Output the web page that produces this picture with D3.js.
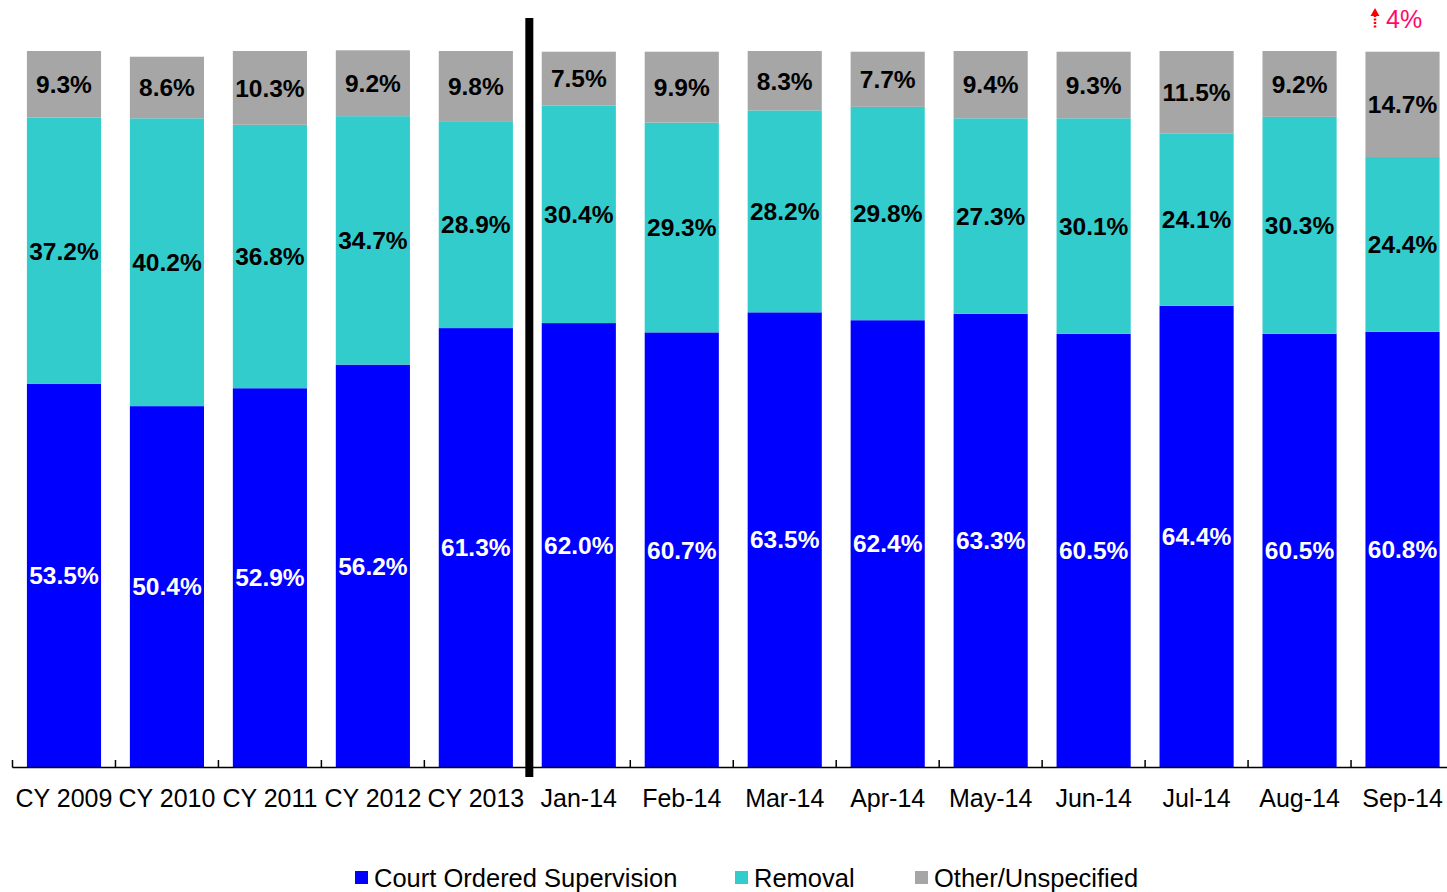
<!DOCTYPE html>
<html>
<head>
<meta charset="utf-8">
<script src="https://cdn.jsdelivr.net/npm/d3@7"></script>
<style>
  body { margin: 0; background: #fff; }
  svg { display: block; font-family: Arial, "Liberation Sans", sans-serif; }
</style>
</head>
<body>
<svg></svg>
<script>
const width = 1447;
const height = 892;

// data
const categories = ["CY 2009", "CY 2010", "CY 2011", "CY 2012", "CY 2013", "Jan-14", "Feb-14",
    "Mar-14", "Apr-14", "May-14", "Jun-14", "Jul-14", "Aug-14", "Sep-14"];
const courtOrdered = [53.5, 50.4, 52.9, 56.2, 61.3, 62.0, 60.7, 63.5, 62.4, 63.3, 60.5, 64.4, 60.5, 60.8];
const removal = [37.2, 40.2, 36.8, 34.7, 28.9, 30.4, 29.3, 28.2, 29.8, 27.3, 30.1, 24.1, 30.3, 24.4];
const other = [9.3, 8.6, 10.3, 9.2, 9.8, 7.5, 9.9, 8.3, 7.7, 9.4, 9.3, 11.5, 9.2, 14.7];
const seriesNames = ["Court Ordered Supervision", "Removal", "Other/Unspecified"];
const colors = ["#0000ff", "#33cccc", "#a6a6a6"];
const labelColors = ["#ffffff", "#000000", "#000000"];

let svg = d3.select("svg")
    .attr("width", width)
    .attr("height", height);

const x = d3.scaleBand().domain(categories).range([12.5, 1454]).paddingInner(0.28).paddingOuter(0.14);
const y = d3.scaleLinear().domain([0, 100]).range([767, 51]);

// stack rows
const rows = categories.map((c, i) => ({ cat: c, s0: courtOrdered[i], s1: removal[i], s2: other[i] }));
const stack = d3.stack().keys(["s0", "s1", "s2"]);
const layers = stack(rows);

let g = svg.append("g");
layers.forEach((layer, k) => {
    g.selectAll(null).data(layer).enter().append("rect")
        .attr("x", d => x(d.data.cat))
        .attr("width", x.bandwidth())
        .attr("y", d => y(d[1]))
        .attr("height", d => y(d[0]) - y(d[1]))
        .style("fill", colors[k]);
    g.selectAll(null).data(layer).enter().append("text")
        .attr("x", d => x(d.data.cat) + x.bandwidth() / 2)
        .attr("y", d => (y(d[0]) + y(d[1])) / 2)
        .attr("dy", "0.36em")
        .attr("text-anchor", "middle")
        .style("font-size", "24.5px")
        .style("font-weight", "bold")
        .style("fill", labelColors[k])
        .text(d => d.data["s" + k].toFixed(1) + "%");
});

// x axis with ticks between categories
const step = x.step();
const x0 = x.range()[0];
svg.append("line").attr("x1", x0).attr("x2", width).attr("y1", 767.5).attr("y2", 767.5)
    .style("stroke", "#000").style("stroke-width", 1.5);
d3.range(categories.length).forEach(i => {
    svg.append("line").attr("x1", x0 + i * step).attr("x2", x0 + i * step)
        .attr("y1", 760).attr("y2", 767.5).style("stroke", "#000").style("stroke-width", 1.5);
});
svg.selectAll(".xlab").data(categories).enter().append("text")
    .attr("class", "xlab")
    .attr("x", d => x(d) + x.bandwidth() / 2)
    .attr("y", 807)
    .attr("text-anchor", "middle")
    .style("font-size", "25px")
    .text(d => d);

// separator between years and months
const sepX = x0 + 5 * step + 2;
svg.append("line").attr("x1", sepX).attr("x2", sepX).attr("y1", 18).attr("y2", 777)
    .style("stroke", "#000").style("stroke-width", 8);

// annotation above last bar
const ax = 1375;
svg.append("line").attr("x1", ax).attr("x2", ax).attr("y1", 15).attr("y2", 28)
    .style("stroke", "#ff0000").style("stroke-width", 2.5).style("stroke-dasharray", "2,1.5");
svg.append("path").attr("d", `M${ax - 4.5},16 L${ax},8 L${ax + 4.5},16 Z`).style("fill", "#ff0000");
svg.append("text").attr("x", 1386).attr("y", 28)
    .style("font-size", "25px").style("fill", "#ff0a6c").text("4%");

// legend
const legendPos = [355, 735, 915];
seriesNames.forEach((name, k) => {
    svg.append("rect").attr("x", legendPos[k]).attr("y", 871).attr("width", 13).attr("height", 13)
        .style("fill", colors[k]);
    svg.append("text").attr("x", legendPos[k] + 19).attr("y", 887)
        .style("font-size", "25.5px").text(name);
});
</script>
</body>
</html>
